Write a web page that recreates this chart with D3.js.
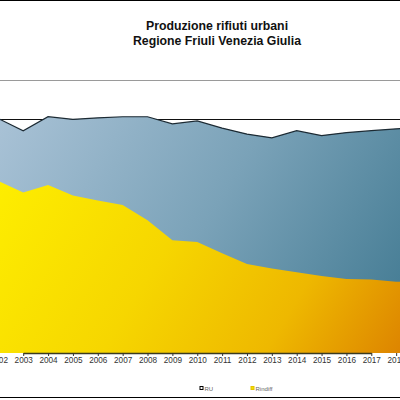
<!DOCTYPE html>
<html>
<head>
<meta charset="utf-8">
<script src="https://cdn.jsdelivr.net/npm/d3@7"></script>
<style>
  body { margin: 0; background: #fff; }
  svg { display: block; font-family: "Liberation Sans", Arial, sans-serif; }
</style>
</head>
<body>
<svg id="chart" width="400" height="400"></svg>
<script>
// anni e valori (migliaia di tonnellate, stimati dal grafico)
var years = [2002, 2003, 2004, 2005, 2006, 2007, 2008, 2009, 2010,
             2011, 2012, 2013, 2014, 2015, 2016, 2017, 2018, 2019];
var ru = [621, 589, 626, 619, 623, 626, 626, 607, 615,
          596, 580, 570, 589, 576, 584, 589, 594, 597];
var rindiff = [456, 425, 445, 417, 404, 392, 352, 299, 294,
               264, 236, 224, 214, 204, 196, 195, 189, 186];
var titleLines = ["Produzione rifiuti urbani", "Regione Friuli Venezia Giulia"];
var seriesNames = ["RU", "Rindiff"];

var svg = d3.select("#chart");

var x = d3.scaleLinear().domain([2003, 2017]).range([23.2, 371.3]);
var y = d3.scaleLinear().domain([0, 620]).range([353, 119]);

var defs = svg.append("defs");

var makeGradient = function(id, stops) {
    var g = defs.append("linearGradient")
        .attr("id", id)
        .attr("gradientUnits", "userSpaceOnUse")
        .attr("x1", 0).attr("y1", 115)
        .attr("x2", 400).attr("y2", 355);
    stops.forEach(function(s) {
        g.append("stop").attr("offset", s[0]).attr("stop-color", s[1]);
    });
};
makeGradient("gradBlue", [[0, "#a9c2d6"], [0.5, "#7aa2b8"], [1, "#3f7890"]]);
makeGradient("gradYellow", [[0, "#fff200"], [0.45, "#f6d600"], [0.75, "#eeb800"], [1, "#dd8400"]]);

// cornice
svg.append("line")
    .attr("x1", 0).attr("x2", 400).attr("y1", 0.5).attr("y2", 0.5)
    .attr("stroke", "#000").attr("stroke-width", 1);
svg.append("line")
    .attr("x1", 0).attr("x2", 400).attr("y1", 80.5).attr("y2", 80.5)
    .attr("stroke", "#9a9a9a").attr("stroke-width", 1);
svg.append("line")
    .attr("x1", 0).attr("x2", 400).attr("y1", 397.5).attr("y2", 397.5)
    .attr("stroke", "#000").attr("stroke-width", 1);

// titolo
svg.append("g").selectAll("text").data(titleLines).enter()
    .append("text")
    .attr("x", 217)
    .attr("y", function(d, i) { return 30 + i * 14.5; })
    .attr("text-anchor", "middle")
    .attr("font-size", 12.3)
    .attr("font-weight", "bold")
    .attr("fill", "#111")
    .text(function(d) { return d; });

// linea superiore dell'area del grafico
svg.append("line")
    .attr("x1", 0).attr("x2", 400).attr("y1", 119.5).attr("y2", 119.5)
    .attr("stroke", "#111").attr("stroke-width", 1);

var area = function(values) {
    return d3.area()
        .x(function(d, i) { return x(years[i]); })
        .y0(y(0))
        .y1(function(d) { return y(d); })(values);
};

svg.append("path")
    .attr("d", area(ru))
    .attr("fill", "url(#gradBlue)");

svg.append("path")
    .attr("d", d3.line()
        .x(function(d, i) { return x(years[i]); })
        .y(function(d) { return y(d); })(ru))
    .attr("fill", "none")
    .attr("stroke", "#1c2a33")
    .attr("stroke-width", 1.2);

svg.append("path")
    .attr("d", area(rindiff))
    .attr("fill", "url(#gradYellow)");

// asse x
var xAxis = svg.append("g")
    .attr("transform", "translate(0," + y(0) + ")")
    .call(d3.axisBottom(x)
        .tickValues(years)
        .tickFormat(d3.format("d"))
        .tickSizeInner(3)
        .tickSizeOuter(0));
xAxis.select(".domain").attr("stroke", "#3a3a20").attr("stroke-width", 1.3);
xAxis.selectAll(".tick line").attr("stroke", "#333");
xAxis.selectAll(".tick text")
    .attr("font-size", 8.2)
    .attr("fill", "#333")
    .attr("font-family", "Liberation Sans, Arial, sans-serif")
    .attr("dy", "0.55em")
    .attr("y", 5);

// legenda
var legendColors = ["#fff", "#f0e000"];
var legendStroke = ["#000", "#e6c200"];
var legendX = [200, 251];
var legend = svg.append("g").selectAll("g").data(seriesNames).enter()
    .append("g")
    .attr("transform", function(d, i) { return "translate(" + legendX[i] + ",389)"; });
legend.append("rect")
    .attr("x", 0).attr("y", -2.5)
    .attr("width", 3).attr("height", 3)
    .attr("fill", function(d, i) { return legendColors[i]; })
    .attr("stroke", function(d, i) { return legendStroke[i]; })
    .attr("stroke-width", 1);
legend.append("text")
    .attr("x", 4.5).attr("y", 1.8)
    .attr("font-size", 6)
    .attr("fill", "#666")
    .text(function(d) { return d; });
</script>
</body>
</html>
